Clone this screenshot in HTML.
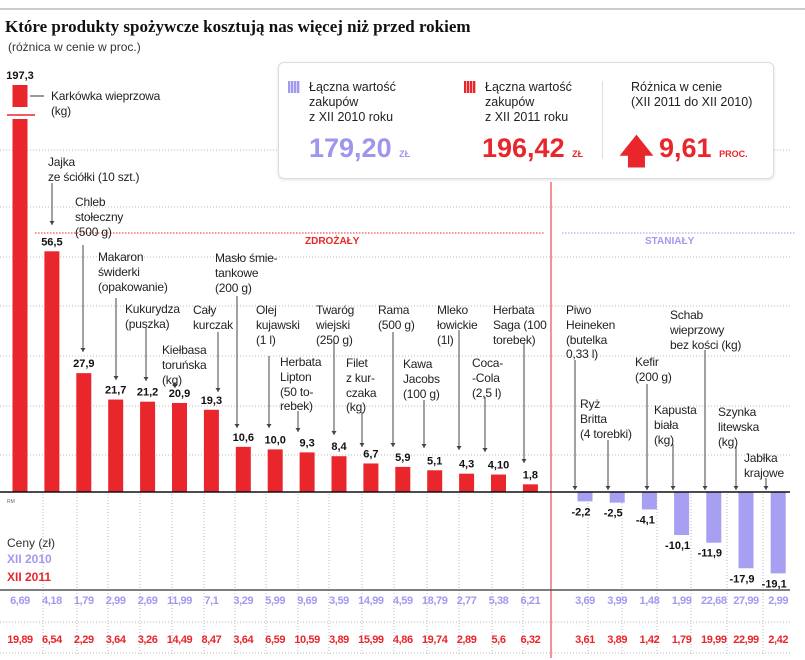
<!DOCTYPE html>
<html><head><meta charset="utf-8">
<style>
body{margin:0;width:805px;height:660px;background:#fff;position:relative;overflow:hidden;font-family:"Liberation Sans",sans-serif;}
.lb{position:absolute;font-size:12px;line-height:14.8px;color:#222;white-space:nowrap;letter-spacing:-0.2px;}
#title{position:absolute;left:5px;top:17px;font:bold 17px "Liberation Serif",serif;color:#111;}
#sub{position:absolute;left:8px;top:40px;font-size:12px;color:#333;}
#box{position:absolute;left:278px;top:62px;width:494px;height:115px;border:1px solid #ddd;border-radius:6px;box-shadow:0 1px 3px rgba(0,0,0,.12);background:#fff;}
.bt{position:absolute;font-size:12.5px;line-height:15px;color:#222;}
.big{position:absolute;font-weight:bold;font-size:27px;}
svg{position:absolute;left:0;top:0;}
</style></head><body>
<div id="title">Które produkty spożywcze kosztują nas więcej niż przed rokiem</div>
<div id="sub">(różnica w cenie w proc.)</div>
<svg id="chart" width="805" height="660"></svg>
<div id="box">
 <div style="position:absolute;left:9px;top:18px;width:12px;height:12px;background:repeating-linear-gradient(90deg,#a29af0 0 2px,#d8d4fb 2px 3px)"></div>
 <div class="bt" style="left:30px;top:17px">Łączna wartość<br>zakupów<br>z XII 2010 roku</div>
 <div class="big" style="left:30px;top:70px;color:#9d95ee">179,20 <span style="font-size:9px">ZŁ</span></div>
 <div style="position:absolute;left:185px;top:18px;width:12px;height:12px;background:repeating-linear-gradient(90deg,#e8262b 0 2px,#f7b0b0 2px 3px)"></div>
 <div class="bt" style="left:206px;top:17px">Łączna wartość<br>zakupów<br>z XII 2011 roku</div>
 <div class="big" style="left:203px;top:70px;color:#e8262b">196,42 <span style="font-size:9px">ZŁ</span></div>
 <div style="position:absolute;left:323px;top:18px;width:1px;height:78px;background:#ddd"></div>
 <div class="bt" style="left:352px;top:17px">Różnica w cenie<br>(XII 2011 do XII 2010)</div>
 <div style="position:absolute;left:340px;top:74px;color:#e8262b;font-weight:bold;font-size:34px;line-height:30px">&#129093;</div>
 <div class="big" style="left:380px;top:70px;color:#e8262b">9,61 <span style="font-size:9px">PROC.</span></div>
</div>
<div id="labels"></div>
<script>
const names=["Karkówka wieprzowa","Jajka","Chleb","Makaron","Kukurydza","Kiełbasa","Cały kurczak","Masło","Olej","Herbata Lipton","Twaróg","Filet","Rama","Kawa","Mleko","Coca-Cola","Herbata Saga","Piwo","Ryż","Kefir","Kapusta","Schab","Szynka","Jabłka"];
const changes=[197.3,56.5,27.9,21.7,21.2,20.9,19.3,10.6,10.0,9.3,8.4,6.7,5.9,5.1,4.3,4.10,1.8,-2.2,-2.5,-4.1,-10.1,-11.9,-17.9,-19.1];
const changeText=["197,3","56,5","27,9","21,7","21,2","20,9","19,3","10,6","10,0","9,3","8,4","6,7","5,9","5,1","4,3","4,10","1,8","-2,2","-2,5","-4,1","-10,1","-11,9","-17,9","-19,1"];
const price2010=["6,69","4,18","1,79","2,99","2,69","11,99","7,1","3,29","5,99","9,69","3,59","14,99","4,59","18,79","2,77","5,38","6,21","3,69","3,99","1,48","1,99","22,68","27,99","2,99"];
const price2011=["19,89","6,54","2,29","3,64","3,26","14,49","8,47","3,64","6,59","10,59","3,89","15,99","4,86","19,74","2,89","5,6","6,32","3,61","3,89","1,42","1,79","19,99","22,99","2,42"];
const annot=[
["Karkówka wieprzowa<br>(kg)",51,89],["Jajka<br>ze ściółki (10 szt.)",48,155],["Chleb<br>stołeczny<br>(500 g)",75,195],
["Makaron<br>świderki<br>(opakowanie)",98,250],["Kukurydza<br>(puszka)",125,302],["Kiełbasa<br>toruńska<br>(kg)",162,343],
["Cały<br>kurczak",193,303],["Masło śmie-<br>tankowe<br>(200 g)",215,251],["Olej<br>kujawski<br>(1 l)",256,303],
["Herbata<br>Lipton<br>(50 to-<br>rebek)",280,355],["Twaróg<br>wiejski<br>(250 g)",316,303],["Filet<br>z kur-<br>czaka<br>(kg)",346,356],
["Rama<br>(500 g)",378,303],["Kawa<br>Jacobs<br>(100 g)",403,357],["Mleko<br>łowickie<br>(1l)",437,303],
["Coca-<br>-Cola<br>(2,5 l)",472,356],["Herbata<br>Saga (100<br>torebek)",493,303],["Piwo<br>Heineken<br>(butelka<br>0,33 l)",566,303],
["Ryż<br>Britta<br>(4 torebki)",580,397],["Kefir<br>(200 g)",635,355],["Kapusta<br>biała<br>(kg)",654,403],
["Schab<br>wieprzowy<br>bez kości (kg)",670,308],["Szynka<br>litewska<br>(kg)",718,405],["Jabłka<br>krajowe",744,451]];
const leaders=[[0,0,0],[52,183,225],[83,245,352],[116,298,380],[146,328,381],[175,382,388],[218,332,392],[237,296,428],[269,356,428],[298,411,432],[334,340,435],[362,412,447],[393,332,447],[424,400,448],[459,330,450],[485,397,452],[524,343,463],[575,360,490],[608,440,490],[647,384,490],[673,444,490],[705,350,490],[736,446,490],[766,478,490]];
const svg=document.getElementById('chart');const NS="http://www.w3.org/2000/svg";
const base=492,k=4.26;
function xc(i){return i<17?20+i*31.9:585+(i-17)*32.2;}
function yv(v){return base-v*k;}
function mk(t,a){const e=document.createElementNS(NS,t);for(const p in a)e.setAttribute(p,a[p]);svg.appendChild(e);return e;}
function tx(x,y,s,a){const e=mk('text',Object.assign({x:x,y:y},a));e.textContent=s;return e;}
mk('line',{x1:0,y1:9,x2:805,y2:9,stroke:'#999','stroke-width':1});
[150,207,257,306,356,406,455].forEach(y=>{const l=mk('line',{x1:0,y1:y,x2:790,y2:y,stroke:'#bbb','stroke-dasharray':'1 2'});
});
mk('line',{x1:35,y1:233,x2:545,y2:233,stroke:'#e8262b','stroke-dasharray':'1.5 1.5'});
mk('line',{x1:562,y1:233,x2:795,y2:233,stroke:'#a29af0','stroke-dasharray':'1.5 1.5'});
tx(305,244,'ZDROŻAŁY',{fill:'#e8262b','font-size':10,'font-weight':'bold'});
tx(645,244,'STANIAŁY',{fill:'#a29af0','font-size':10,'font-weight':'bold'});
const seps=[43,77,108,140,172,204,235,266,298,329,362,394,427,459,492,523,588,622,657,691,727,763];
seps.forEach(x=>mk('line',{x1:x,y1:494,x2:x,y2:656,stroke:'#bbb','stroke-dasharray':'1 2'}));
mk('line',{x1:551,y1:182,x2:551,y2:658,stroke:'#e8262b','stroke-width':1});
changes.forEach((v,i)=>{
 const x=xc(i)-7.5;let r;
 if(i===0){
  r=mk('rect',{x:x,y:119,width:15,height:base-119,fill:'#e8262b'});
  mk('rect',{x:x,y:85,width:15,height:22,fill:'#e8262b'});
  mk('line',{x1:7,y1:115,x2:35,y2:115,stroke:'#e8262b','stroke-width':1.5});
  tx(xc(i),79,changeText[i],{'text-anchor':'middle','font-size':11,'font-weight':'bold',fill:'#111'});
  mk('line',{x1:44,y1:96,x2:30,y2:96,stroke:'#333'});
 } else if(v>0){
  r=mk('rect',{x:x,y:yv(v),width:15,height:v*k,fill:'#e8262b'});
  tx(xc(i),yv(v)-6,changeText[i],{'text-anchor':'middle','font-size':11,'font-weight':'bold',fill:'#111'});
 } else {
  r=mk('rect',{x:x,y:base,width:15,height:-v*k,fill:'#a7a0f2'});
  tx(xc(i)-4,yv(v)+14,changeText[i],{'text-anchor':'middle','font-size':11,'font-weight':'bold',fill:'#111'});
 }
 
 
 const t1=tx(xc(i),604,price2010[i],{'text-anchor':'middle','font-size':11,'font-weight':'bold',fill:'#a29af0','letter-spacing':'-0.4'});
 
 
 const t2=tx(xc(i),643,price2011[i],{'text-anchor':'middle','font-size':11,'font-weight':'bold',fill:'#e8262b','letter-spacing':'-0.4'});
 
 
 const L=leaders[i];
 if(i>0){mk('line',{x1:L[0],y1:L[1],x2:L[0],y2:L[2],stroke:'#444'});
  mk('path',{d:`M${L[0]-2.5},${L[2]-4}L${L[0]+2.5},${L[2]-4}L${L[0]},${L[2]}Z`,fill:'#444'});}
});
mk('line',{x1:0,y1:base,x2:790,y2:base,stroke:'#111','stroke-width':1.5});
mk('line',{x1:0,y1:590,x2:790,y2:590,stroke:'#555','stroke-width':1.5});
mk('line',{x1:0,y1:622,x2:790,y2:622,stroke:'#bbb','stroke-dasharray':'1 2'});
mk('line',{x1:0,y1:653,x2:790,y2:653,stroke:'#bbb','stroke-dasharray':'1 2'});
tx(7,503,'RM',{'font-size':5,fill:'#666'});
tx(7,547,'Ceny (zł)',{'font-size':12,fill:'#333'});
tx(7,563,'XII 2010',{'font-size':12,'font-weight':'bold',fill:'#a29af0'});
tx(7,581,'XII 2011',{'font-size':12,'font-weight':'bold',fill:'#e8262b'});
const lab=document.getElementById('labels');
annot.forEach((a,i)=>{const d=document.createElement('div');d.className='lb';d.innerHTML=a[0];
 d.style.left=a[1]+'px';d.style.top=a[2]+'px';
 
 
 lab.appendChild(d);});
</script>
</body></html>
